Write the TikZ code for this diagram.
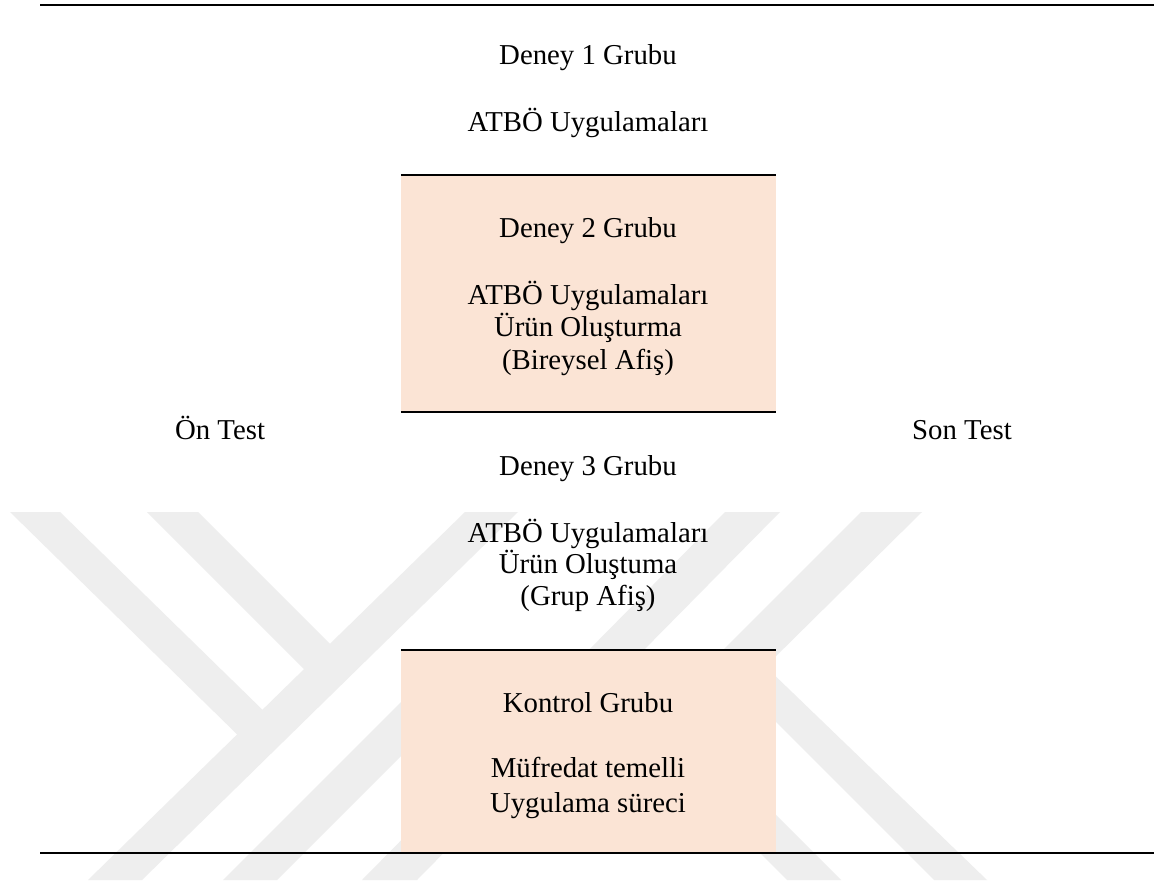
\documentclass[tikz,border=0pt]{standalone}
\usepackage{fontspec}
\setmainfont{Liberation Serif}
\definecolor{peach}{HTML}{FBE4D5}
\definecolor{wm}{HTML}{EEEEEE}
\begin{document}
\begin{tikzpicture}[x=1pt,y=-1pt,
  lbl/.style={anchor=base, inner sep=0pt, font=\fontsize{28.8}{32}\selectfont},
  rule/.style={line width=2pt},
  band/.style={fill=wm, draw=none},
  grp/.style={fill=peach, draw=none, inner sep=0pt}]
\useasboundingbox (0,0) rectangle (1154,885);
\fill[white] (0,0) rectangle (1154,885);
% watermark
\fill[band] (10,512) -- (60,512) -- (275,722) -- (250,747) -- cycle;
\fill[band] (147,512) -- (198,512) -- (345,659) -- (318,683) -- cycle;
\fill[band] (465,512) -- (518,512) -- (142,880) -- (88,880) -- cycle;
\fill[band] (223,880) -- (277,880) -- (502,655) -- (448,655) -- cycle;
\fill[band] (725,512) -- (780,512) -- (417,880) -- (362,880) -- cycle;
\fill[band] (861,512) -- (922,512) -- (765.5,666.5) -- (987,880) -- (934,880) -- (713.5,659.5) -- cycle;
\fill[band] (787,880) -- (841,880) -- (641,680) -- (587,680) -- cycle;
% boxes
\node[grp, minimum width=375pt, minimum height=237pt] (box2) at (588.5,293.5) {};
\node[grp, minimum width=375pt, minimum height=203pt] (box4) at (588.5,751.5) {};
% rules
\coordinate (tl) at (40,5);
\coordinate (tr) at (1154,5);
\coordinate (bl) at (40,853);
\coordinate (br) at (1154,853);
\draw[rule] (tl) -- (tr);
\draw[rule] (bl) -- (br);
\draw[rule] (box2.north west) -- (box2.north east);
\draw[rule] (box2.south west) -- (box2.south east);
\draw[rule] (box4.north west) -- (box4.north east);
% texts
\node[lbl] (d1) at (588,65) {Deney 1 Grubu};
\node[lbl] (a1) at (588,132) {ATBÖ Uygulamaları};
\node[lbl] (d2) at (588,238) {Deney 2 Grubu};
\node[lbl] (a2) at (588,305) {ATBÖ Uygulamaları};
\node[lbl] (u2) at (588,337) {Ürün Oluşturma};
\node[lbl] (b2) at (588,369) {(Bireysel Afiş)};
\node[lbl] (on) at (220,439) {Ön Test};
\node[lbl] (son) at (962,439) {Son Test};
\node[lbl] (d3) at (588,475) {Deney 3 Grubu};
\node[lbl] (a3) at (588,542) {ATBÖ Uygulamaları};
\node[lbl] (u3) at (588,573) {Ürün Oluştuma};
\node[lbl] (g3) at (588,605) {(Grup Afiş)};
\node[lbl] (k4) at (588,712) {Kontrol Grubu};
\node[lbl] (m4) at (588,777) {Müfredat temelli};
\node[lbl] (s4) at (588,812) {Uygulama süreci};
\end{tikzpicture}
\end{document}
